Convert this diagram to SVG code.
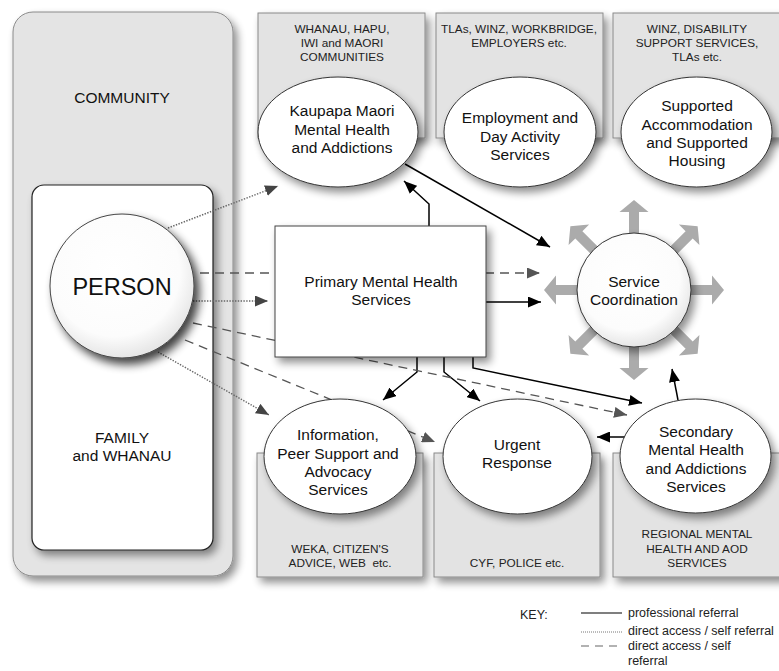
<svg xmlns="http://www.w3.org/2000/svg" xmlns:xlink="http://www.w3.org/1999/xlink" width="779" height="671" viewBox="0 0 779 671">
  <defs>
    <style>
      text { font-family: "Liberation Sans", Arial, sans-serif; fill: #111; text-anchor: middle; }
      .small { font-size: 11.8px; fill: #222; }
      .body { font-size: 15.5px; }
      .key { font-size: 12.5px; text-anchor: start; fill: #222; }
      .panel { fill: #e4e4e4; stroke: #8a8a8a; stroke-width: 1; }
      .box { fill: #e3e3e3; stroke: #8a8a8a; stroke-width: 1; }
      .oval { fill: #fff; stroke: #333; stroke-width: 1; }
      .solid { fill: none; stroke: #000; stroke-width: 1.5; }
      .dashed { fill: none; stroke: #555; stroke-width: 1.3; stroke-dasharray: 9 6; }
      .dotted { fill: none; stroke: #666; stroke-width: 1.4; stroke-dasharray: 1.4 1.4; }
    </style>
    <filter id="shadow" x="-20%" y="-20%" width="150%" height="150%">
      <feGaussianBlur in="SourceAlpha" stdDeviation="4"/>
      <feOffset dx="4" dy="5"/>
      <feComponentTransfer><feFuncA type="linear" slope="0.45"/></feComponentTransfer>
      <feMerge><feMergeNode/><feMergeNode in="SourceGraphic"/></feMerge>
    </filter>
    <filter id="deepShadow" x="-30%" y="-30%" width="170%" height="170%">
      <feGaussianBlur in="SourceAlpha" stdDeviation="5"/>
      <feOffset dx="5" dy="6"/>
      <feComponentTransfer><feFuncA type="linear" slope="0.75"/></feComponentTransfer>
      <feMerge><feMergeNode/><feMergeNode in="SourceGraphic"/></feMerge>
    </filter>
    <radialGradient id="pearl" cx="45%" cy="40%" r="60%">
      <stop offset="0" stop-color="#ffffff"/>
      <stop offset="0.75" stop-color="#fcfcfc"/>
      <stop offset="1" stop-color="#e6e6e6"/>
    </radialGradient>
    <marker id="headSolid" markerUnits="userSpaceOnUse" markerWidth="13" markerHeight="11" refX="13" refY="5.5" orient="auto">
      <path d="M0,0 L13,5.5 L0,11 z" fill="#000"/>
    </marker>
    <marker id="headDash" markerUnits="userSpaceOnUse" markerWidth="13" markerHeight="11" refX="13" refY="5.5" orient="auto">
      <path d="M0,0 L13,5.5 L0,11 z" fill="#555"/>
    </marker>
    <marker id="headDot" markerUnits="userSpaceOnUse" markerWidth="13" markerHeight="11" refX="13" refY="5.5" orient="auto">
      <path d="M0,0 L13,5.5 L0,11 z" fill="#444"/>
    </marker>
    <!-- broad grey arrow pointing along +x, used around the coordination hub -->
    <polygon id="radArrow" points="50,-5 78,-5 78,-14.5 90,0 78,14.5 78,5 50,5" fill="#ababab"/>
  </defs>

  <rect width="779" height="671" fill="#fff"/>

  <!-- community and family surroundings -->
  <g id="community">
    <rect x="13" y="12" width="220" height="564" rx="20" class="panel" filter="url(#shadow)"/>
    <text x="122" y="103" class="body">COMMUNITY</text>
  </g>
  <g id="family">
    <rect x="32" y="185" width="181" height="365" rx="12" fill="#fff" stroke="#222" stroke-width="1.2" filter="url(#shadow)"/>
    <text x="122" y="443" class="body">FAMILY</text>
    <text x="122" y="461" class="body">and WHANAU</text>
  </g>

  <!-- provider sector boxes -->
  <g id="sector-maori">
    <rect x="258" y="13" width="167" height="125" class="box" filter="url(#shadow)"/>
    <text x="342" y="33" class="small">WHANAU, HAPU,</text>
    <text x="342" y="47" class="small">IWI and MAORI</text>
    <text x="342" y="61" class="small">COMMUNITIES</text>
  </g>
  <g id="sector-employment">
    <rect x="436" y="13" width="167" height="125" class="box" filter="url(#shadow)"/>
    <text x="519" y="33" class="small">TLAs, WINZ, WORKBRIDGE,</text>
    <text x="519" y="47" class="small">EMPLOYERS etc.</text>
  </g>
  <g id="sector-housing">
    <rect x="613" y="13" width="172" height="125" class="box" filter="url(#shadow)"/>
    <text x="697" y="33" class="small">WINZ, DISABILITY</text>
    <text x="697" y="47" class="small">SUPPORT SERVICES,</text>
    <text x="697" y="61" class="small">TLAs etc.</text>
  </g>
  <g id="sector-information">
    <rect x="257" y="453" width="166" height="124" class="box" filter="url(#shadow)"/>
    <text x="340" y="553" class="small">WEKA, CITIZEN'S</text>
    <text x="340" y="567" class="small" xml:space="preserve" style="white-space:pre">ADVICE, WEB  etc.</text>
  </g>
  <g id="sector-urgent">
    <rect x="434" y="453" width="166" height="124" class="box" filter="url(#shadow)"/>
    <text x="517" y="567" class="small">CYF, POLICE etc.</text>
  </g>
  <g id="sector-secondary">
    <rect x="613" y="453" width="172" height="124" class="box" filter="url(#shadow)"/>
    <text x="697" y="538" class="small">REGIONAL MENTAL</text>
    <text x="697" y="553" class="small">HEALTH AND AOD</text>
    <text x="697" y="567" class="small">SERVICES</text>
  </g>

  <!-- referral pathways -->
  <g id="connectors">
    <path class="solid" marker-end="url(#headSolid)" d="M429,226 V204 L404,181"/>
    <path class="solid" marker-end="url(#headSolid)" d="M405,164 L550,247"/>
    <path class="solid" marker-end="url(#headSolid)" d="M486,302 L541,302"/>
    <path class="solid" marker-end="url(#headSolid)" d="M417,357 V372 L383,400"/>
    <path class="solid" marker-end="url(#headSolid)" d="M444,357 V372 L480,401"/>
    <path class="solid" marker-end="url(#headSolid)" d="M473,357 V368 L642,403"/>
    <path class="solid" marker-end="url(#headSolid)" d="M678,400 L672,369"/>
    <path class="solid" marker-end="url(#headSolid)" d="M625,437 L597,437"/>

    <path class="dashed" marker-end="url(#headDash)" d="M200,273 L540,273"/>
    <path class="dashed" marker-end="url(#headDash)" d="M193,323 L627,415"/>
    <path class="dashed" marker-end="url(#headDash)" d="M185,340 L435,442"/>

    <path class="dotted" marker-end="url(#headDot)" d="M168,228 L278,186"/>
    <path class="dotted" marker-end="url(#headDot)" d="M193,301 L268,301"/>
    <path class="dotted" marker-end="url(#headDot)" d="M158,352 L269,415"/>
  </g>

  <g id="person">
    <circle cx="122" cy="286" r="72" fill="url(#pearl)" stroke="#444" stroke-width="1" filter="url(#deepShadow)"/>
    <text x="122" y="295" font-size="23.5px">PERSON</text>
  </g>

  <g id="primary">
    <rect x="275" y="226" width="211" height="131" fill="#fff" stroke="#444" stroke-width="1" filter="url(#shadow)"/>
    <text x="381" y="287" class="body">Primary Mental Health</text>
    <text x="381" y="305" class="body">Services</text>
  </g>

  <g id="kaupapa">
    <ellipse cx="338" cy="132" rx="80" ry="55" class="oval" filter="url(#shadow)"/>
    <text x="342" y="116" class="body">Kaupapa Maori</text>
    <text x="342" y="134.5" class="body">Mental Health</text>
    <text x="342" y="153" class="body">and Addictions</text>
  </g>
  <g id="employment">
    <ellipse cx="520" cy="132" rx="76" ry="55" class="oval" filter="url(#shadow)"/>
    <text x="520" y="123" class="body">Employment and</text>
    <text x="520" y="141.5" class="body">Day Activity</text>
    <text x="520" y="160" class="body">Services</text>
  </g>
  <g id="housing">
    <ellipse cx="696.5" cy="132" rx="75.5" ry="55" class="oval" filter="url(#shadow)"/>
    <text x="697" y="111" class="body">Supported</text>
    <text x="697" y="129.5" class="body">Accommodation</text>
    <text x="697" y="148" class="body">and Supported</text>
    <text x="697" y="166" class="body">Housing</text>
  </g>

  <g id="coordination">
    <use xlink:href="#radArrow" transform="translate(634,290) rotate(0)"/>
    <use xlink:href="#radArrow" transform="translate(634,290) rotate(45)"/>
    <use xlink:href="#radArrow" transform="translate(634,290) rotate(90)"/>
    <use xlink:href="#radArrow" transform="translate(634,290) rotate(135)"/>
    <use xlink:href="#radArrow" transform="translate(634,290) rotate(180)"/>
    <use xlink:href="#radArrow" transform="translate(634,290) rotate(225)"/>
    <use xlink:href="#radArrow" transform="translate(634,290) rotate(270)"/>
    <use xlink:href="#radArrow" transform="translate(634,290) rotate(315)"/>
    <circle cx="634" cy="290" r="57" fill="url(#pearl)" stroke="#333" stroke-width="1" filter="url(#shadow)"/>
    <text x="634" y="287" class="body">Service</text>
    <text x="634" y="305" class="body">Coordination</text>
  </g>

  <g id="information">
    <ellipse cx="340" cy="456.5" rx="76" ry="57.5" class="oval" filter="url(#shadow)"/>
    <text x="338" y="440" class="body">Information,</text>
    <text x="338" y="458.5" class="body">Peer Support and</text>
    <text x="338" y="477" class="body">Advocacy</text>
    <text x="338" y="495" class="body">Services</text>
  </g>
  <g id="urgent">
    <ellipse cx="517.5" cy="456.5" rx="74.5" ry="57.5" class="oval" filter="url(#shadow)"/>
    <text x="517" y="450" class="body">Urgent</text>
    <text x="517" y="468" class="body">Response</text>
  </g>
  <g id="secondary">
    <ellipse cx="695.5" cy="456" rx="75.5" ry="57" class="oval" filter="url(#shadow)"/>
    <text x="696" y="437" class="body">Secondary</text>
    <text x="696" y="455.3" class="body">Mental Health</text>
    <text x="696" y="473.6" class="body">and Addictions</text>
    <text x="696" y="492" class="body">Services</text>
  </g>

  <!-- line style key -->
  <g id="legend">
    <text x="520" y="619" class="key">KEY:</text>
    <line x1="581" y1="613" x2="622" y2="613" stroke="#000" stroke-width="1.2"/>
    <text x="628" y="617" class="key">professional referral</text>
    <line x1="581" y1="632" x2="622" y2="632" stroke="#777" stroke-width="1" stroke-dasharray="1 1"/>
    <text x="628" y="635" class="key">direct access / self referral</text>
    <line x1="581" y1="646" x2="622" y2="646" stroke="#666" stroke-width="1.1" stroke-dasharray="8 6"/>
    <text x="628" y="650" class="key">direct access / self</text>
    <text x="628" y="665" class="key">referral</text>
  </g>
</svg>
